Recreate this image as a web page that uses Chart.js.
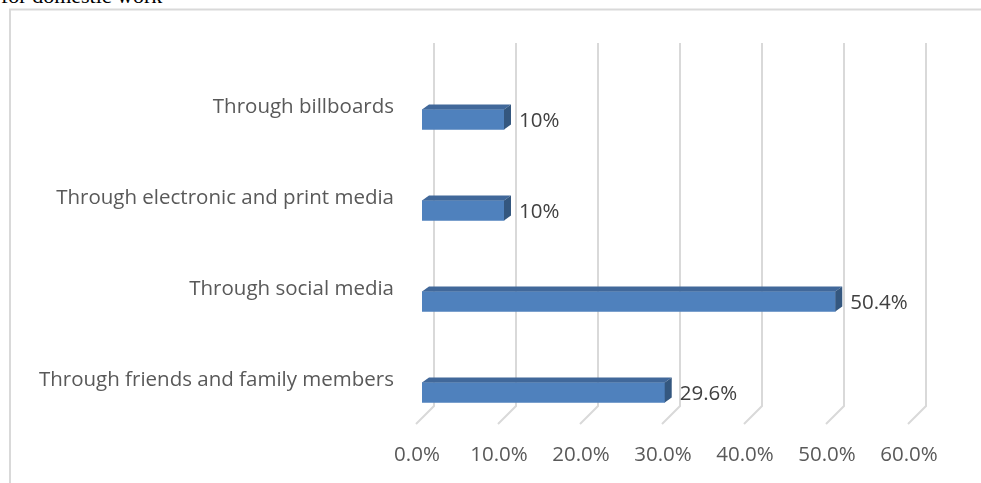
<!DOCTYPE html>
<html>
<head>
<meta charset="utf-8">
<script src="https://cdn.jsdelivr.net/npm/chart.js@4.4.1/dist/chart.umd.min.js"></script>
<style>
    html, body { margin: 0; padding: 0; background: #fff; overflow: hidden; }
    #wrap { position: relative; width: 981px; height: 483px; }
    #caption {
        position: absolute; left: 1px; top: -15px;
        font: 22px "Liberation Serif", "Times New Roman", serif;
        color: #000; line-height: 22px; white-space: nowrap;
    }
    canvas { position: absolute; left: 0; top: 0; }
</style>
</head>
<body>
<div id="wrap">
    <div id="caption">for domestic work</div>
    <canvas id="chart" width="981" height="483"></canvas>
</div>
<script>
/* Canaux d'information - barres horizontales façon 3D */

const categories = [
    'Through billboards',
    'Through electronic and print media',
    'Through social media',
    'Through friends and family members'
];
const values = [10, 10, 50.4, 29.6];
const valueLabels = ['10%', '10%', '50.4%', '29.6%'];
const tickValues = [0, 10, 20, 30, 40, 50, 60];

const STYLE = {
    font: '"Open Sans", "Noto Sans", sans-serif',
    front: '#4f81bd',
    top: '#41689a',
    side: '#34577f',
    grid: '#d9d9d9',
    text: '#595959',
    valueText: '#404040',
    depthX: 7,
    depthY: 5
};

// mur du fond + sol + cadre, puis faces 3D et étiquettes des barres
const bar3d = {
    id: 'bar3d',
    beforeDraw(chart) {
        const { ctx, chartArea, scales } = chart;
        ctx.save();

        // cadre (seulement haut et gauche visibles)
        ctx.strokeStyle = STYLE.grid;
        ctx.lineWidth = 2;
        ctx.strokeRect(10, 9.5, 1000, 600);

        ctx.lineWidth = 2;
        const wallTop = chartArea.top - 31;
        const wallBottom = chartArea.bottom - 32;
        const floorFront = chartArea.bottom - 14;
        for (const v of tickValues) {
            const x = scales.x.getPixelForValue(v) + 12;
            ctx.beginPath();
            ctx.moveTo(x, wallTop);
            ctx.lineTo(x, wallBottom);
            ctx.lineTo(x - 18, floorFront);
            ctx.stroke();
        }
        ctx.restore();
    },
    afterDatasetsDraw(chart) {
        const { ctx } = chart;
        const meta = chart.getDatasetMeta(0);
        const dx = STYLE.depthX, dy = STYLE.depthY;
        ctx.save();
        meta.data.forEach((bar, i) => {
            const { x, y, base, height } = bar.getProps(['x', 'y', 'base', 'height'], true);
            const top = y - height / 2;
            const bottom = y + height / 2;

            ctx.fillStyle = STYLE.top;
            ctx.beginPath();
            ctx.moveTo(base, top);
            ctx.lineTo(base + dx, top - dy);
            ctx.lineTo(x + dx, top - dy);
            ctx.lineTo(x, top);
            ctx.closePath();
            ctx.fill();

            ctx.fillStyle = STYLE.side;
            ctx.beginPath();
            ctx.moveTo(x, top);
            ctx.lineTo(x + dx, top - dy);
            ctx.lineTo(x + dx, bottom - dy);
            ctx.lineTo(x, bottom);
            ctx.closePath();
            ctx.fill();

            ctx.fillStyle = STYLE.valueText;
            ctx.font = '20.5px ' + STYLE.font;
            ctx.textAlign = 'left';
            ctx.textBaseline = 'middle';
            ctx.fillText(valueLabels[i], x + 15, y + 2);
        });
        ctx.restore();
    }
};

new Chart(document.getElementById('chart'), {
    type: 'bar',
    data: {
        labels: categories,
        datasets: [{
            data: values,
            backgroundColor: STYLE.front,
            barThickness: 20
        }]
    },
    options: {
        indexAxis: 'y',
        responsive: false,
        animation: false,
        layout: { padding: { left: 10, right: 67, top: 74, bottom: 0 } },
        plugins: {
            legend: { display: false },
            tooltip: { enabled: false }
        },
        scales: {
            x: {
                min: 0,
                max: 60,
                afterBuildTicks(scale) {
                    scale.ticks = tickValues.map(v => ({ value: v }));
                },
                afterFit(scale) { scale.height = 45; },
                grid: { display: false },
                border: { display: false },
                ticks: {
                    callback: v => v.toFixed(1) + '%',
                    color: STYLE.text,
                    font: { family: STYLE.font, size: 20.5 },
                    labelOffset: -5,
                    padding: -3,
                    maxRotation: 0
                }
            },
            y: {
                afterFit(scale) { scale.width = 412; },
                grid: { display: false },
                border: { display: false },
                ticks: {
                    color: STYLE.text,
                    font: { family: STYLE.font, size: 20.5 },
                    labelOffset: -12,
                    padding: 20
                }
            }
        }
    },
    plugins: [bar3d]
});
</script>
</body>
</html>
